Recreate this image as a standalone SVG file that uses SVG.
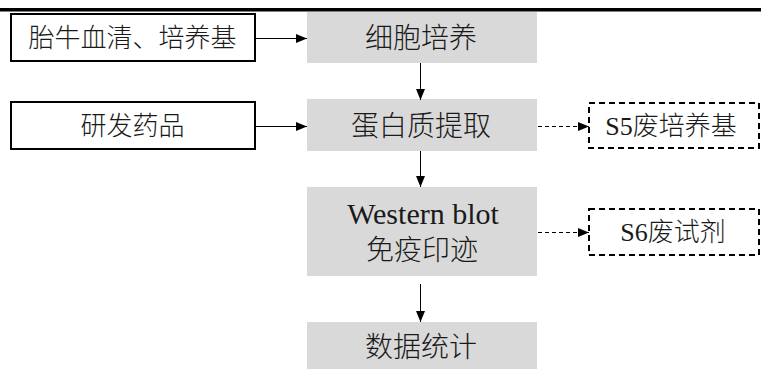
<svg xmlns="http://www.w3.org/2000/svg" width="761" height="369" viewBox="0 0 761 369">
<style>
.t{font-family:"Liberation Serif","Noto Sans CJK SC",serif;font-weight:300;fill:#1a1a1a;text-anchor:middle;dominant-baseline:central}
.in{fill:#fff;stroke:#000;stroke-width:2}
.proc{fill:#d9d9d9;stroke:none}
.waste{fill:#fff;stroke:#000;stroke-width:2;stroke-dasharray:6 4}
.c{stroke:#000;stroke-width:1;fill:none}
.d{stroke:#000;stroke-width:1;fill:none;stroke-dasharray:4 3}
</style>
<defs>
<marker id="ah" markerUnits="userSpaceOnUse" markerWidth="11" markerHeight="10" refX="11" refY="5" orient="auto">
<path d="M0,0.5 L11,5 L0,9.5 z" fill="#000"/>
</marker>
</defs>
<line x1="0" y1="9.75" x2="761" y2="9.75" stroke="#000" stroke-width="3.5"/>
<g id="n-fbs"><rect class="in" x="11" y="14" width="244" height="47"/><text class="t" x="132.5" y="38" font-size="26">胎牛血清、培养基</text></g>
<g id="n-drug"><rect class="in" x="11" y="102" width="244" height="47"/><text class="t" x="132.5" y="126" font-size="26">研发药品</text></g>
<g id="n-culture"><rect class="proc" x="307" y="12" width="230" height="51"/><text class="t" x="421" y="38" font-size="28">细胞培养</text></g>
<g id="n-extract"><rect class="proc" x="307" y="99" width="230" height="52"/><text class="t" x="421" y="126" font-size="28">蛋白质提取</text></g>
<g id="n-wb"><rect class="proc" x="307" y="187" width="230" height="89"/><text class="t" x="423" y="213" font-size="30">Western blot</text><text class="t" x="422" y="250" font-size="28">免疫印迹</text></g>
<g id="n-stat"><rect class="proc" x="307" y="322" width="230" height="47"/><text class="t" x="421" y="347" font-size="28">数据统计</text></g>
<g id="n-s5"><rect class="waste" x="589" y="103" width="170" height="45"/><text class="t" x="671" y="126" font-size="26">S5废培养基</text></g>
<g id="n-s6"><rect class="waste" x="589" y="209" width="170" height="46"/><text class="t" x="673" y="232" font-size="26">S6废试剂</text></g>
<g id="connectors">
<line class="c" x1="256" y1="38.5" x2="307" y2="38.5" marker-end="url(#ah)"/>
<line class="c" x1="256" y1="126.5" x2="307" y2="126.5" marker-end="url(#ah)"/>
<line class="c" x1="420.5" y1="63" x2="420.5" y2="100" marker-end="url(#ah)"/>
<line class="c" x1="420.5" y1="151" x2="420.5" y2="187" marker-end="url(#ah)"/>
<line class="c" x1="420.5" y1="284" x2="420.5" y2="322" marker-end="url(#ah)"/>
<line class="d" x1="538" y1="126.5" x2="589" y2="126.5" marker-end="url(#ah)"/>
<line class="d" x1="538" y1="232.5" x2="589" y2="232.5" marker-end="url(#ah)"/>
</g>
</svg>
